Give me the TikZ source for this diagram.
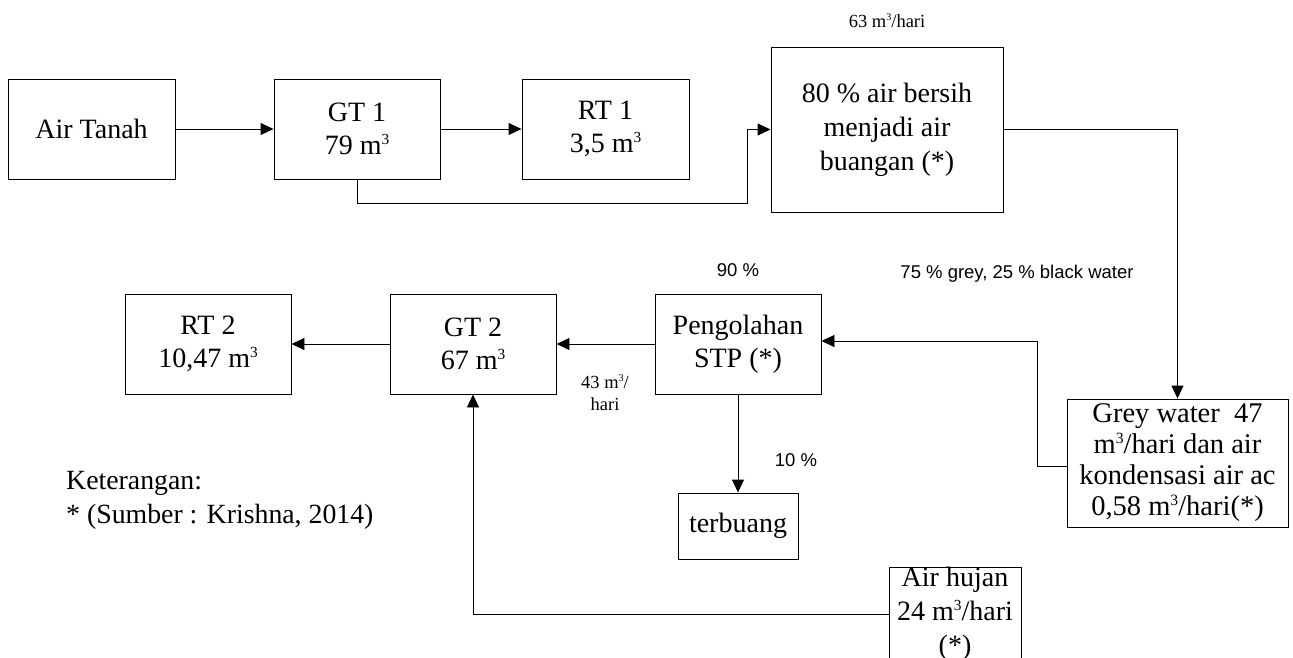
\documentclass[tikz,border=0pt]{standalone}
\usepackage{fontspec}
\setmainfont{Liberation Serif}
\newfontfamily\arialfont{Liberation Sans}
\usetikzlibrary{arrows.meta}
\newcommand\cubesup{\raisebox{0.36em}{\scalebox{0.55}{3}}}
\begin{document}
\begin{tikzpicture}[x=1pt,y=-1pt,
  box/.style={draw, line width=0.9pt, inner sep=0pt, align=center, font=\fontsize{28}{33}\selectfont},
  arr/.style={line width=0.9pt, -{Triangle[length=13pt,width=12pt]}},
  lbl/.style={font=\fontsize{18.5}{22}\selectfont, inner sep=0pt, align=center},
  sanslbl/.style={font=\arialfont\fontsize{18.5}{22}\selectfont, inner sep=0pt, align=center}]
\useasboundingbox (0,0) rectangle (1293,657);
\clip (0,0) rectangle (1293,657);

% top row
\node[box, minimum width=167pt, minimum height=100pt] (airtanah) at (91.5,129) {Air Tanah};
\node[box, minimum width=166pt, minimum height=100pt] (gt1) at (357,129) {GT 1\\79 m\cubesup};
\node[box, minimum width=167pt, minimum height=100pt] (rt1) at (605.5,129) {RT 1\\3,5 m\cubesup};
\node[box, minimum width=232pt, minimum height=165pt, font=\fontsize{28}{34}\selectfont] (bersih) at (887,129.5) {80 \% air bersih\\menjadi air\\buangan (*)};

% middle row
\node[box, minimum width=166pt, minimum height=100pt] (rt2) at (208,344) {RT 2\\10,47 m\cubesup};
\node[box, minimum width=166pt, minimum height=100pt] (gt2) at (473,344) {GT 2\\67 m\cubesup};
\node[box, minimum width=166pt, minimum height=100pt] (stp) at (738,344) {Pengolahan\\STP (*)};
\node[box, minimum width=120pt, minimum height=66pt] (terbuang) at (738,526) {terbuang};
\node[box, minimum width=221pt, minimum height=128pt, font=\fontsize{28.5}{31}\selectfont] (grey) at (1177.5,463) {Grey water\ \ 47\\m\cubesup/hari dan air\\kondensasi air ac\\0,58 m\cubesup/hari(*)};
\node[box, minimum width=132pt, minimum height=94pt, font=\fontsize{28}{34}\selectfont] (hujan) at (955,614) {Air hujan\\24 m\cubesup/hari\\(*)};

% labels
\node[lbl] (l63) at (887,21) {63 m\cubesup/hari};
\node[sanslbl] (l75) at (1017,274) {75 \% grey, 25 \% black water};
\node[sanslbl] (l90) at (738,270) {90 \%};
\node[lbl] (l43) at (605,393) {43 m\cubesup/\\hari};
\node[sanslbl] (l10) at (796,460) {10 \%};
\node[anchor=west, align=left, inner sep=0pt, font=\fontsize{27.8}{34}\selectfont] (ket) at (66,500) {Keterangan:\\* (Sumber : Krishna, 2014)};

% connectors
\draw[arr] (airtanah.east) -- (gt1.west);
\draw[arr] (gt1.east) -- (rt1.west);
\draw[arr] (gt1.south) |- (747,203) |- (bersih.west);
\draw[arr] (bersih.east) -| (grey.north);
\draw[arr] ([yshift=-3pt]grey.west) -| (1037,400) |- ([yshift=3pt]stp.east);
\draw[arr] (stp.west) -- (gt2.east);
\draw[arr] (gt2.west) -- (rt2.east);
\draw[arr] (stp.south) -- (terbuang.north);
\draw[arr] (hujan.west) -| (gt2.south);
\end{tikzpicture}
\end{document}
